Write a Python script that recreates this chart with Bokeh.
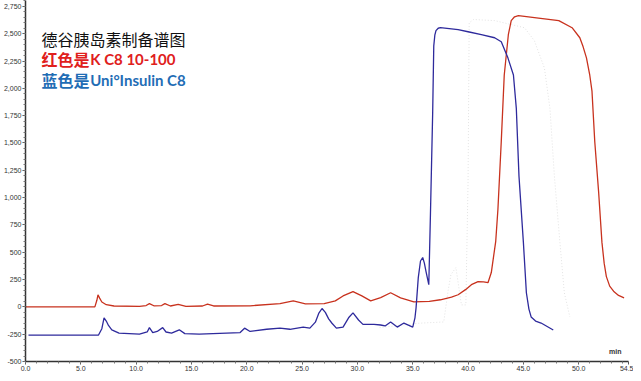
from bokeh.plotting import figure
from bokeh.models import FixedTicker, NumeralTickFormatter, Label, Range1d
from bokeh.embed import file_html
from bokeh.resources import INLINE

# time (min) and signal (mAU)
red_t = [0.0, 6.27, 6.45, 6.55, 6.7, 6.9, 7.3, 8.0, 10.3, 10.9, 11.2, 11.6, 12.3, 12.6, 13.1,
         13.8, 14.5, 16.0, 16.45, 17.0, 20.3, 23.0, 24.2, 25.3, 27.0, 28.0, 28.7, 29.6, 30.4,
         31.2, 32.1, 33.0, 33.9, 35.1, 36.5, 37.5, 38.5, 39.1, 39.8, 40.3, 40.9, 41.4, 41.8,
         42.1, 42.5, 42.7, 43.0, 43.27, 43.64, 43.9, 44.2, 44.55, 46.0, 48.2, 49.4, 50.1, 50.4,
         50.7, 51.0, 51.2, 51.45, 51.8, 52.1, 52.3, 52.5, 52.8, 53.2, 53.6, 54.1]
red_y = [0, 0, 60, 110, 80, 45, 20, 8, 5, 12, 30, 10, 12, 30, 8,
         22, 5, 8, 25, 8, 10, 30, 55, 28, 30, 55, 100, 140, 100,
         55, 85, 129, 83, 46, 50, 65, 90, 111, 160, 203, 231, 228, 221,
         314, 600, 895, 1513, 2122, 2491, 2620, 2655, 2666, 2648, 2620, 2555, 2463, 2380,
         2279, 2120, 1974, 1513, 1052, 590, 400, 277, 190, 138, 105, 83]

blue_t = [0.27, 6.6, 6.9, 7.1, 7.3, 7.5, 7.8, 8.45, 10.3, 11.0, 11.2, 11.5, 11.9, 12.4, 12.7,
          13.2, 13.9, 14.4, 15.7, 19.4, 19.8, 20.3, 21.8, 23.0, 23.9, 25.1, 25.7, 26.2, 26.5,
          26.8, 27.1, 27.4, 27.7, 28.1, 28.7, 29.2, 29.6, 30.1, 30.5, 31.5, 32.1, 32.5, 33.0,
          33.6, 34.2, 35.0, 35.2, 35.3, 35.5, 35.7, 35.9, 36.05, 36.2, 36.45, 36.6, 36.8, 36.9,
          37.0, 37.1, 37.3, 37.5, 39.1, 40.0, 41.2, 42.4, 43.0, 43.6, 44.1, 44.36, 44.6, 45.0,
          45.27, 45.5, 45.7, 46.1, 46.6, 47.7]
blue_y = [-258, -258, -200, -100, -130, -170, -210, -240, -250, -230, -190, -235, -225, -190, -230,
          -240, -210, -245, -250, -235, -195, -225, -205, -195, -205, -185, -195, -140, -60,
          -15, -50, -110, -150, -195, -185, -100, -55, -120, -160, -160, -166, -175, -138,
          -185, -148, -185, -100, -9, 268, 420, 452, 400, 323, 203, 849, 1771, 2389,
          2490, 2528, 2550, 2555, 2537, 2518, 2491, 2463, 2426, 2279, 2122, 1817, 1199, 590,
          129, -20, -92, -130, -148, -212]

gray_t = [32.0, 35.5, 37.8, 38.2, 38.45, 38.9, 39.4, 39.8, 40.0, 40.1, 40.5, 42.4, 45.1, 46.0,
          46.9, 47.4, 47.8, 48.3, 48.7, 49.2]
gray_y = [-190, -150, -138, 150, 295, 360, 18, 18, 1153, 2600, 2630, 2620, 2555, 2435,
          2186, 1817, 1199, 590, 129, -92]

x_ticks = [0, 5, 10, 15, 20, 25, 30, 35, 40, 45, 50, 54.5]
y_ticks = [-500, -250, 0, 250, 500, 750, 1000, 1250, 1500, 1750, 2000, 2250, 2500, 2750]

p = figure(width=633, height=373, output_backend="svg", toolbar_location=None,
           x_range=Range1d(0, 54.5), y_range=Range1d(-500, 2804),
           min_border_top=0, min_border_right=5, min_border_left=2, min_border_bottom=0)
p.outline_line_color = None
p.grid.visible = False
p.background_fill_color = "white"

p.line(gray_t, gray_y, line_color="#e2e2e2", line_width=1, line_dash="1 2")
p.line(red_t, red_y, line_color="#c8321e", line_width=1.3)
p.line(blue_t, blue_y, line_color="#2e2a9c", line_width=1.3)

p.xaxis.ticker = FixedTicker(ticks=x_ticks, minor_ticks=list(range(0, 55)))
p.yaxis.ticker = FixedTicker(ticks=y_ticks, minor_ticks=list(range(-500, 2801, 50)))
p.xaxis.formatter = NumeralTickFormatter(format="0.0")
p.yaxis.formatter = NumeralTickFormatter(format="0,0")
for ax in (p.xaxis[0], p.yaxis[0]):
    ax.axis_line_color = "#333333"
    ax.axis_line_width = 1.5
    ax.major_tick_in = 0
    ax.major_tick_out = 3
    ax.minor_tick_in = 0
    ax.minor_tick_out = 2
    ax.major_tick_line_color = "#555555"
    ax.minor_tick_line_color = "#777777"
    ax.major_label_text_font = "Liberation Sans"
    ax.major_label_text_font_size = "7px"
    ax.major_label_text_color = "#333333"
    ax.major_label_standoff = 1

p.add_layout(Label(x=53.3, y=-410, text="min", text_font="Liberation Sans",
                   text_font_size="7px", text_font_style="bold", text_color="#333333",
                   text_baseline="middle", text_align="center"))

cjk = "Noto Sans CJK SC"
p.add_layout(Label(x=1.45, y=2454, text="德谷胰岛素制备谱图", text_font=cjk,
                   text_font_size="16px", text_color="#111111", text_baseline="middle"))
p.add_layout(Label(x=1.45, y=2269, text="红色是", text_font=cjk, text_font_style="bold",
                   text_font_size="16px", text_color="#e0201c", text_baseline="middle"))
p.add_layout(Label(x=5.85, y=2269, text="K C8 10-100", text_font="Lato",
                   text_font_size="15px", text_font_style="bold", text_color="#e0201c",
                   text_baseline="middle"))
p.add_layout(Label(x=1.45, y=2076, text="蓝色是", text_font=cjk, text_font_style="bold",
                   text_font_size="16px", text_color="#1f6db5", text_baseline="middle"))
p.add_layout(Label(x=5.85, y=2076, text="Uni°Insulin C8", text_font="Lato",
                   text_font_size="15px", text_font_style="bold", text_color="#1f6db5",
                   text_baseline="middle"))

open("out.html", "w").write(file_html(p, INLINE))
